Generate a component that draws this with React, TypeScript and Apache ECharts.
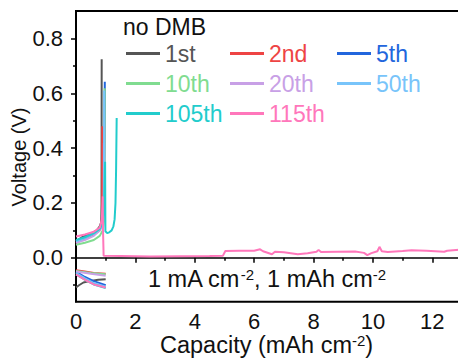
import React, { useEffect, useRef } from "react";
import * as echarts from "echarts";

// ---------- data ----------
const cycleNames = ["1st", "2nd", "5th", "10th", "20th", "50th", "105th", "115th"];

const plate1st: [number, number][] = [[0, -0.108], [0.1, -0.1], [0.25, -0.09], [0.45, -0.085], [0.75, -0.08], [1.0, -0.078]];
const strip1st: [number, number][] = [[0, 0.06], [0.2, 0.075], [0.5, 0.088], [0.7, 0.1], [0.8, 0.115], [0.85, 0.13], [0.86, 0.2], [0.865, 0.724]];

const plate2nd: [number, number][] = [[0, -0.045], [0.3, -0.05], [0.6, -0.055], [1.0, -0.058]];
const strip2nd: [number, number][] = [[0, 0.055], [0.3, 0.07], [0.6, 0.085], [0.8, 0.1], [0.87, 0.12], [0.88, 0.2], [0.885, 0.48]];

const plate5th: [number, number][] = [[0, -0.05], [0.3, -0.07], [0.6, -0.085], [1.0, -0.1]];
const strip5th: [number, number][] = [[0, 0.06], [0.3, 0.075], [0.6, 0.09], [0.8, 0.105], [0.9, 0.12], [0.95, 0.16], [0.97, 0.642]];

const plate10th: [number, number][] = [[0, -0.048], [0.5, -0.055], [1.0, -0.06]];
const strip10th: [number, number][] = [[0, 0.048], [0.3, 0.055], [0.6, 0.065], [0.8, 0.08], [0.9, 0.1], [0.95, 0.14], [0.965, 0.618]];

const plate20th: [number, number][] = [[0, -0.05], [0.5, -0.058], [1.0, -0.065]];
const strip20th: [number, number][] = [[0, 0.055], [0.3, 0.065], [0.6, 0.08], [0.8, 0.1], [0.9, 0.12], [0.93, 0.16], [0.94, 0.42]];

const plate50th: [number, number][] = [[0, -0.055], [0.3, -0.075], [0.6, -0.092], [1.0, -0.105]];
const strip50th: [number, number][] = [[0, 0.06], [0.3, 0.072], [0.6, 0.088], [0.8, 0.105], [0.9, 0.12], [0.94, 0.16], [0.95, 0.61]];

const plate105th: [number, number][] = [[0, -0.06], [0.3, -0.08], [0.6, -0.097], [1.0, -0.11]];
const strip105th: [number, number][] = [[0, 0.065], [0.3, 0.075], [0.6, 0.09], [0.8, 0.105], [0.9, 0.13], [0.95, 0.2], [0.98, 0.35], [0.99, 0.097], [1.05, 0.09], [1.12, 0.093], [1.2, 0.1], [1.26, 0.115], [1.3, 0.14], [1.33, 0.2], [1.35, 0.32], [1.37, 0.51]];

const plate115th: [number, number][] = [[0, -0.06], [0.3, -0.08], [0.6, -0.097], [1.0, -0.108]];
const strip115th: [number, number][] = [
  [0, 0.078], [0.3, 0.085], [0.6, 0.095], [0.8, 0.11], [0.87, 0.14], [0.89, 0.19], [0.9, 0.224], [0.91, 0.1], [0.93, 0.008],
  [1.5, 0.007], [2.5, 0.005], [3.5, 0.006], [4.5, 0.007], [4.95, 0.008], [5.03, 0.025], [5.5, 0.026], [6.0, 0.026],
  [6.2, 0.031], [6.3, 0.024], [6.6, 0.013], [6.7, 0.022], [7.0, 0.02], [7.47, 0.013], [7.8, 0.017], [8.1, 0.022],
  [8.17, 0.029], [8.25, 0.021], [8.8, 0.022], [9.4, 0.023], [9.7, 0.018], [9.81, 0.01], [9.95, 0.017], [10.15, 0.024],
  [10.22, 0.04], [10.3, 0.024], [10.5, 0.021], [11.0, 0.025], [11.3, 0.028], [11.8, 0.026], [12.4, 0.022], [12.5, 0.026], [13, 0.03],
];

const platingData = [plate1st, plate2nd, plate5th, plate10th, plate20th, plate50th, plate105th, plate115th];
const strippingData = [strip1st, strip2nd, strip5th, strip10th, strip20th, strip50th, strip105th, strip115th];

const xMajorTicks = [0, 2, 4, 6, 8, 10, 12];
const xMinorTicks = [1, 3, 5, 7, 9, 11];
const yMajorTicks = [0, 0.2, 0.4, 0.6, 0.8];
const yMinorTicks = [-0.1, 0.1, 0.3, 0.5, 0.7];

const legendColumns = [["1st", "10th", "105th"], ["2nd", "20th", "115th"], ["5th", "50th"]];

// ---------- styles ----------
const colors: Record<string, string> = {
  "1st": "#555555",
  "2nd": "#EE4444",
  "5th": "#2266DD",
  "10th": "#80DC90",
  "20th": "#C8A0E6",
  "50th": "#78C4FA",
  "105th": "#22CCCC",
  "115th": "#FF77BB",
};
const FONT = "'Liberation Sans', Arial, sans-serif";
const TXT = "#111";

export default function App() {
  const ref = useRef<HTMLDivElement>(null);

  useEffect(() => {
    if (!ref.current) return;
    const chart = echarts.init(ref.current, undefined, { renderer: "svg" });

    const series: any[] = [];
    cycleNames.forEach((name, i) => {
      [platingData[i], strippingData[i]].forEach((d) => {
        series.push({
          type: "line",
          name,
          data: d,
          showSymbol: false,
          symbol: "none",
          lineStyle: { color: colors[name], width: 2 },
          itemStyle: { color: colors[name] },
          xAxisIndex: 0,
          yAxisIndex: 0,
        });
      });
    });

    const legendLefts = [126, 230, 337];
    const legends = legendColumns.map((col, ci) => ({
      orient: "vertical",
      left: legendLefts[ci],
      top: 42,
      padding: 0,
      itemWidth: 34,
      itemHeight: 3,
      itemGap: 7,
      icon: "rect",
      selectedMode: false,
      data: col.map((n) => ({ name: n, textStyle: { color: colors[n] } })),
      textStyle: { fontSize: 23, fontFamily: FONT },
    }));

    const supStyle = { fontSize: 15, verticalAlign: "top", lineHeight: 15, fill: TXT, fontFamily: FONT };

    chart.setOption({
      animation: false,
      backgroundColor: "#fff",
      grid: {
        left: 76,
        top: 11,
        right: 8,
        bottom: 56.3,
        show: true,
        borderColor: "#000",
        borderWidth: 2,
        backgroundColor: "transparent",
        containLabel: false,
        outerBoundsMode: "none",
      },
      legend: legends,
      xAxis: [
        {
          type: "value",
          min: 0,
          max: 13,
          position: "bottom",
          axisLine: { show: true, lineStyle: { color: "#000", width: 1.5 } },
          axisTick: { show: true, length: 5, customValues: xMajorTicks, lineStyle: { color: "#000", width: 1.5 } },
          axisLabel: { customValues: xMajorTicks, fontSize: 22, color: TXT, margin: 9, fontFamily: FONT },
          splitLine: { show: false },
        },
        {
          type: "value",
          min: 0,
          max: 13,
          position: "bottom",
          axisLine: { show: false },
          axisTick: { show: true, length: 3, customValues: xMinorTicks, lineStyle: { color: "#000", width: 1.5 } },
          axisLabel: { show: false },
          splitLine: { show: false },
        },
      ],
      yAxis: [
        {
          type: "value",
          min: -0.16,
          max: 0.9,
          position: "left",
          axisLine: { show: true, lineStyle: { color: "#000", width: 1.5 } },
          axisTick: { show: true, length: 5, customValues: yMajorTicks, lineStyle: { color: "#000", width: 1.5 } },
          axisLabel: {
            customValues: yMajorTicks,
            formatter: (v: number) => v.toFixed(1),
            fontSize: 22,
            color: TXT,
            margin: 13,
            fontFamily: FONT,
          },
          splitLine: { show: false },
        },
        {
          type: "value",
          min: -0.16,
          max: 0.9,
          position: "left",
          axisLine: { show: false },
          axisTick: { show: true, length: 3, customValues: yMinorTicks, lineStyle: { color: "#000", width: 1.5 } },
          axisLabel: { show: false },
          splitLine: { show: false },
        },
      ],
      graphic: [
        {
          type: "text",
          left: 123,
          top: 15,
          style: { text: "no DMB", fontSize: 23, fill: TXT, fontFamily: FONT },
        },
        {
          type: "text",
          left: 148,
          top: 267,
          style: {
            text: "1 mA cm{sup|-2}, 1 mAh cm{sup|-2}",
            fontSize: 23.5,
            fill: TXT,
            fontFamily: FONT,
            rich: { sup: supStyle },
          },
        },
        {
          type: "text",
          left: 160,
          top: 333,
          style: {
            text: "Capacity (mAh cm{sup|-2})",
            fontSize: 23.5,
            fill: TXT,
            fontFamily: FONT,
            rich: { sup: supStyle },
          },
        },
        {
          type: "text",
          x: 18.5,
          y: 157,
          rotation: Math.PI / 2,
          style: {
            text: "Voltage (V)",
            fontSize: 20,
            fill: TXT,
            fontFamily: FONT,
            align: "center",
            verticalAlign: "middle",
          },
        },
      ],
      series,
    });

    return () => chart.dispose();
  }, []);

  return (
    <div
      ref={ref}
      style={{ position: "fixed", left: 0, top: 0, width: 470, height: 358 }}
    />
  );
}
